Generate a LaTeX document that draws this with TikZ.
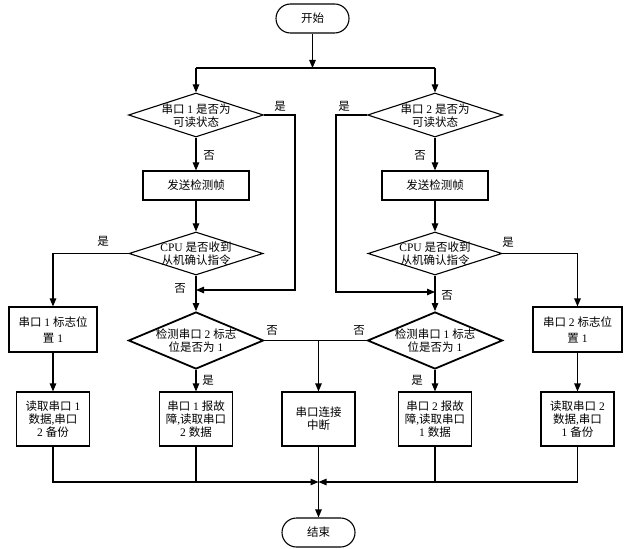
\documentclass[tikz,border=0pt]{standalone}
\usepackage{fontspec}
\setmainfont{Noto Sans CJK SC}
\newfontfamily\latinf{Liberation Serif}
\newcommand\lt[1]{{\latinf #1}}
\usetikzlibrary{shapes.geometric,arrows.meta}
\begin{document}
\begin{tikzpicture}[x=1bp,y=-1bp,
  every node/.style={font=\fontsize{11.5bp}{13bp}\selectfont},
  ln/.style={line width=1.1bp},
  thk/.style={line width=1.8bp},
  arr/.style={ln,-{Triangle[length=8bp,width=6.5bp]}},
  term/.style={draw,ln,rounded corners=14.5bp,minimum width=73bp,minimum height=29bp,inner sep=0},
  box/.style={draw,ln,inner sep=0,align=center},
  dia/.style={draw,diamond,ln,inner sep=0},
  txt/.style={align=center,inner sep=0},
  lab/.style={inner sep=0}
]
\useasboundingbox (0,0) rectangle (634,549);
\fill[white] (0,0) rectangle (634,549);

% terminals
\node[term] (start) at (312.5,18.5) {开始};
\node[term] (end) at (318.5,532.5) {结束};

% first-level diamonds
\node[dia,minimum width=135bp,minimum height=44bp] (d1) at (196,115) {};
\node[txt] (d1t) at (196,116) {串口\lt{ 1 }是否为\\可读状态};
\node[dia,minimum width=135bp,minimum height=44bp] (d2) at (435,115) {};
\node[txt] (d2t) at (435,116) {串口\lt{ 2 }是否为\\可读状态};

% send frames
\node[box,minimum width=106bp,minimum height=29bp] (f1) at (196,185.5) {发送检测帧};
\node[box,minimum width=106bp,minimum height=29bp] (f2) at (435,185.5) {发送检测帧};

% CPU diamonds
\node[dia,minimum width=134bp,minimum height=43bp] (c1) at (196,253.5) {};
\node[txt] (c1t) at (196,254) {\lt{CPU }是否收到\\从机确认指令};
\node[dia,minimum width=134bp,minimum height=43bp] (c2) at (435,253.5) {};
\node[txt] (c2t) at (435,254) {\lt{CPU }是否收到\\从机确认指令};

% flag boxes
\node[box,minimum width=88bp,minimum height=45bp,font=\fontsize{11.5bp}{16bp}\selectfont] (s1) at (53,329.5) {串口\lt{ 1 }标志位\\置\lt{ 1}};
\node[box,minimum width=89bp,minimum height=45bp,font=\fontsize{11.5bp}{16bp}\selectfont] (s2) at (577.5,329.5) {串口\lt{ 2 }标志位\\置\lt{ 1}};

% check diamonds
\node[dia,thk,minimum width=135bp,minimum height=57bp] (k1) at (196,340.5) {};
\node[txt] (k1t) at (196,341) {检测串口\lt{ 2 }标志\\位是否为\lt{ 1}};
\node[dia,thk,minimum width=135bp,minimum height=57bp] (k2) at (435,340.5) {};
\node[txt] (k2t) at (435,341) {检测串口\lt{ 1 }标志\\位是否为\lt{ 1}};

% bottom boxes
\node[box,minimum width=73bp,minimum height=54bp] (r1) at (53,419) {读取串口\lt{ 1}\\数据\lt{,}串口\\\lt{2 }备份};
\node[box,minimum width=73bp,minimum height=54bp] (e1) at (196,419) {串口\lt{ 1 }报故\\障\lt{,}读取串口\\\lt{2 }数据};
\node[box,minimum width=73bp,minimum height=54bp] (m) at (318.5,419) {串口连接\\中断};
\node[box,minimum width=73bp,minimum height=54bp] (e2) at (435,419) {串口\lt{ 2 }报故\\障\lt{,}读取串口\\\lt{1 }数据};
\node[box,minimum width=73bp,minimum height=54bp] (r2) at (577.5,419) {读取串口\lt{ 2}\\数据\lt{,}串口\\\lt{1 }备份};

% junction coordinates
\coordinate (top) at (312.5,68);
\coordinate (tl) at (196,68);
\coordinate (tr) at (435,68);
\coordinate (j1) at (196,290);
\coordinate (j2) at (435,292);
\coordinate (y1) at (295,115);
\coordinate (y2) at (336,115);
\coordinate (mj) at (318.5,340.5);
\coordinate (bj) at (318.5,482);

% connectors
\draw[arr] (start) -- (top);
\draw[ln] (tl) -- (tr);
\draw[arr] (tl) -- (d1);
\draw[arr] (tr) -- (d2);
\draw[arr] (d1) -- (f1);
\draw[arr] (d2) -- (f2);
\draw[arr] (f1) -- (c1);
\draw[arr] (f2) -- (c2);
\draw[arr] (c1) -- (k1);
\draw[arr] (c2) -- (k2);
\draw[arr] (d1.east) -- (y1) |- (j1);
\draw[arr] (d2.west) -- (y2) |- (j2);
\draw[arr] (c1.west) -| (s1);
\draw[arr] (c2.east) -| (s2);
\draw[arr] (s1) -- (r1);
\draw[arr] (s2) -- (r2);
\draw[arr] (k1) -- (e1);
\draw[arr] (k2) -- (e2);
\draw[thk] (k1.east) -- (k2.west);
\draw[arr] (mj) -- (m);
\draw[arr] (r1) |- (bj);
\draw[arr] (r2) |- (bj);
\draw[ln] (e1) -- (e1 |- bj);
\draw[ln] (e2) -- (e2 |- bj);
\draw[ln] (m) -- (bj);
\draw[arr] (bj) -- (end);

% branch labels
\node[lab] (l1) at (280,106) {是};
\node[lab] (l2) at (209,155) {否};
\node[lab] (l3) at (103,241) {是};
\node[lab] (l4) at (180,288) {否};
\node[lab] (l5) at (272,330) {否};
\node[lab] (l6) at (208,380) {是};
\node[lab] (l7) at (344,106) {是};
\node[lab] (l8) at (420,155) {否};
\node[lab] (l9) at (508,242) {是};
\node[lab] (l10) at (447,295) {否};
\node[lab] (l11) at (359,330) {否};
\node[lab] (l12) at (417,380) {是};
\end{tikzpicture}
\end{document}
